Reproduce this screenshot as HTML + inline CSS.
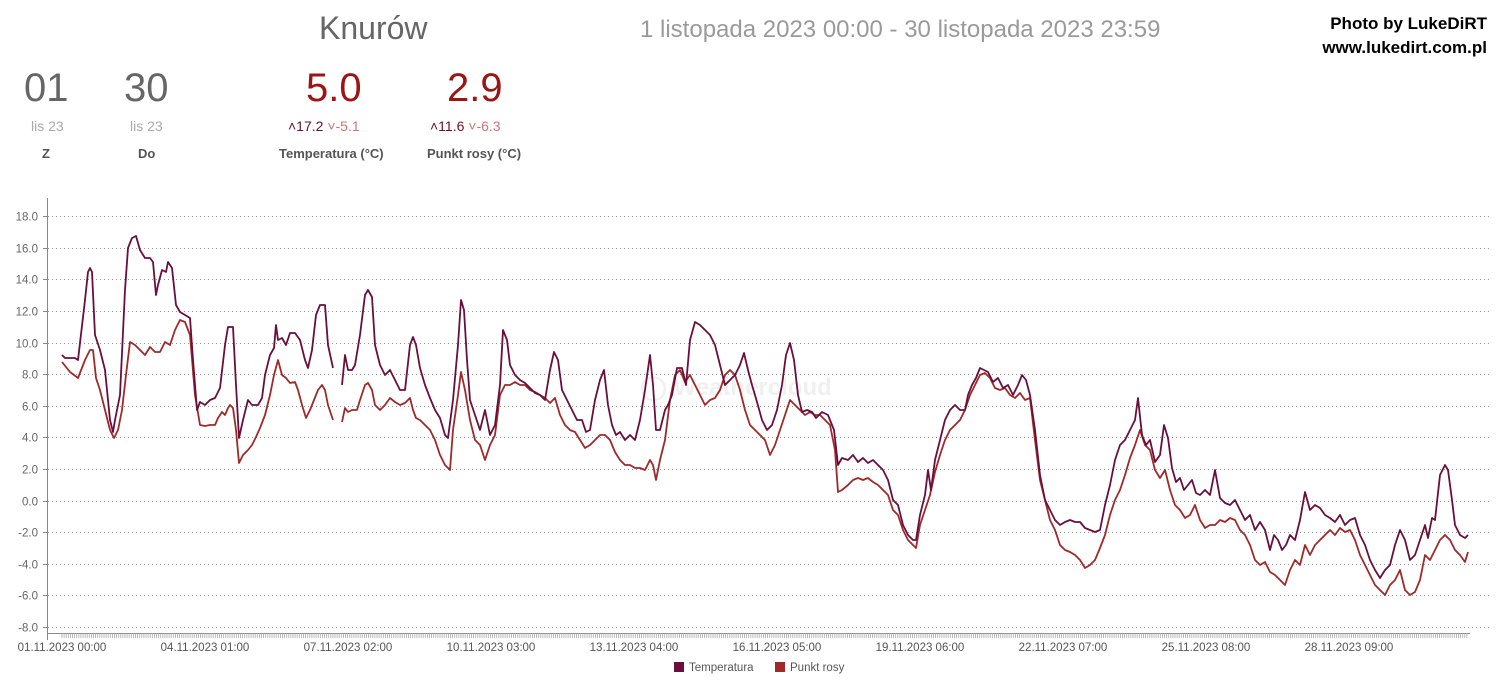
<!DOCTYPE html>
<html><head><meta charset="utf-8"><style>
body{margin:0;background:#fff;width:1498px;height:688px;overflow:hidden;position:relative;font-family:"Liberation Sans",sans-serif}
.a{position:absolute;white-space:nowrap}
</style></head><body>
<div class="a" style="left:319px;top:10px;font-size:32px;color:#666">Knurów</div>
<div class="a" style="left:640px;top:16px;font-size:24px;color:#9a9a9a">1 listopada 2023 00:00 - 30 listopada 2023 23:59</div>
<div class="a" style="right:11px;top:12px;font-size:17px;font-weight:bold;color:#000;text-align:right;line-height:24px">Photo by LukeDiRT<br>www.lukedirt.com.pl</div>
<div class="a" style="left:24px;top:66px;font-size:40px;color:#666">01</div>
<div class="a" style="left:124px;top:66px;font-size:40px;color:#666">30</div>
<div class="a" style="left:31px;top:118px;font-size:14px;color:#aaa">lis 23</div>
<div class="a" style="left:130px;top:118px;font-size:14px;color:#aaa">lis 23</div>
<div class="a" style="left:42px;top:146px;font-size:13px;font-weight:bold;color:#555">Z</div>
<div class="a" style="left:138px;top:146px;font-size:13px;font-weight:bold;color:#555">Do</div>
<div class="a" style="left:306px;top:66px;font-size:40px;color:#9b1515">5.0</div>
<div class="a" style="left:447px;top:66px;font-size:40px;color:#9b1515">2.9</div>
<div class="a" style="left:288px;top:118px;font-size:14px;color:#6b0f2a">˄17.2 <span style="color:#c77">˅-5.1</span></div>
<div class="a" style="left:430px;top:118px;font-size:14px;color:#6b0f2a">˄11.6 <span style="color:#c77">˅-6.3</span></div>
<div class="a" style="left:279px;top:146px;font-size:13px;font-weight:bold;color:#555">Temperatura (°C)</div>
<div class="a" style="left:427px;top:146px;font-size:13px;font-weight:bold;color:#555">Punkt rosy (°C)</div>
<div class="a" style="left:640px;top:373px;font-size:24px;font-weight:bold;color:#f0f0f0">◯ Weathercloud</div>
<svg id="s" class="a" style="left:0;top:0" width="1498" height="688" font-family="Liberation Sans, sans-serif"></svg>
<script>
var s=document.getElementById('s'),h='';
h+='<line x1="47.5" y1="198" x2="47.5" y2="640" stroke="#888"/>';
for(var v=18;v>=-8;v-=2){var y=Math.round(500.6-15.81*v)+0.5;
h+='<line x1="48" y1="'+y+'" x2="1490" y2="'+y+'" stroke="#999" stroke-dasharray="1,3"/>';
h+='<line x1="43" y1="'+y+'" x2="48" y2="'+y+'" stroke="#888"/>';
h+='<text x="38" y="'+(y+4)+'" font-size="11.5" fill="#666" text-anchor="end">'+v.toFixed(1)+'</text>';}
h+='<line x1="47" y1="633.5" x2="1470" y2="633.5" stroke="#888"/>';
var t='';for(var x=62;x<=1468;x+=2.1){t+='M'+x.toFixed(1)+' 633v5';}
h+='<path d="'+t+'" stroke="#aaa" stroke-width="0.8"/>';
var L=['01.11.2023 00:00','04.11.2023 01:00','07.11.2023 02:00','10.11.2023 03:00','13.11.2023 04:00','16.11.2023 05:00','19.11.2023 06:00','22.11.2023 07:00','25.11.2023 08:00','28.11.2023 09:00'];
L.forEach(function(l,i){h+='<text x="'+(62+143*i)+'" y="651" font-size="11.5" fill="#555" text-anchor="middle">'+l+'</text>';});
var T="62,355 65,358 75,358 78,360 85,300 88,272 90,268 92,272 95,335 100,350 105,370 110,420 113,432 115,420 120,395 125,290 128,248 132,238 136,236 140,250 145,258 150,258 153,262 156,295 158,285 162,270 166,272 168,262 172,268 176,305 180,312 185,315 190,318 193,360 197,410 200,402 205,405 210,400 215,398 220,388 225,345 228,327 233,327 236,385 239,438 243,420 248,400 252,405 258,405 262,398 265,375 270,355 274,348 276,325 278,340 282,338 286,345 290,333 295,333 300,340 305,360 308,368 312,350 316,315 320,305 325,305 328,345 333,368";
var T2="342,385 345,355 348,370 352,370 355,365 360,335 365,295 368,290 372,297 375,345 380,365 385,375 390,370 395,380 400,390 405,390 410,345 413,337 416,345 420,368 425,385 430,398 435,410 440,418 445,435 448,438 453,400 458,345 461,300 464,310 467,360 470,400 475,415 480,430 485,410 490,435 495,425 500,385 503,330 507,340 510,365 515,375 520,380 525,383 530,388 535,393 540,395 545,400 550,370 554,352 558,360 562,390 567,400 572,410 577,420 582,420 586,432 590,430 595,400 600,380 604,370 608,405 612,425 616,435 620,432 625,440 630,435 635,440 640,420 645,390 650,355 653,385 656,430 660,430 665,410 668,405 672,395 677,368 682,368 686,385 690,340 695,322 700,325 705,330 710,335 715,345 720,365 725,385 730,380 735,375 740,365 744,353 748,370 752,385 757,402 762,420 767,430 772,425 777,410 782,385 786,355 790,343 794,360 798,395 802,412 807,410 812,412 816,418 822,412 828,415 834,430 838,465 842,458 848,460 853,455 858,462 863,458 868,463 873,460 878,465 883,470 888,480 893,500 898,505 903,525 908,535 913,540 916,540 920,515 925,495 928,470 931,490 935,460 940,440 945,420 950,410 955,405 960,410 965,410 968,395 972,385 976,378 980,368 984,370 988,372 993,382 998,378 1003,388 1008,385 1013,395 1018,385 1022,375 1026,380 1030,395 1035,430 1040,475 1045,500 1050,510 1055,520 1060,525 1065,522 1070,520 1075,522 1080,522 1085,528 1090,530 1095,532 1100,530 1105,505 1110,485 1115,460 1120,445 1125,440 1130,430 1135,420 1138,398 1142,435 1146,445 1150,440 1155,462 1160,455 1164,425 1168,438 1172,468 1176,482 1180,478 1184,490 1188,485 1192,480 1196,493 1200,495 1205,490 1210,495 1215,470 1220,498 1225,503 1230,505 1235,500 1240,510 1245,520 1250,515 1255,530 1260,522 1265,530 1270,550 1274,535 1278,540 1282,550 1286,545 1290,535 1295,540 1300,520 1305,492 1310,510 1315,505 1320,508 1325,515 1330,518 1335,522 1340,515 1345,525 1350,520 1355,518 1360,535 1365,545 1370,560 1375,570 1380,578 1385,570 1390,565 1395,545 1400,530 1405,540 1410,560 1415,555 1420,540 1425,525 1428,538 1432,518 1435,520 1440,475 1445,465 1448,470 1452,500 1455,525 1460,535 1465,538 1468,535";
var D="62,362 70,372 78,378 85,360 90,350 93,350 96,378 100,390 105,410 110,430 114,438 118,430 122,410 126,375 130,342 135,345 140,350 145,355 150,347 155,352 160,352 165,342 170,345 175,330 180,320 185,322 190,335 195,395 200,425 205,426 210,425 215,425 218,418 222,412 225,415 228,408 230,405 233,408 236,430 239,463 243,455 248,450 252,445 256,437 260,428 265,415 270,395 274,375 278,360 282,375 286,378 290,383 295,382 298,390 302,405 306,418 310,410 314,400 318,390 322,385 325,390 328,405 333,420";
var D2="342,422 345,408 348,412 352,410 357,410 360,400 365,385 368,383 372,390 375,405 380,410 385,405 390,398 395,402 400,405 405,403 410,398 413,410 416,418 420,420 425,425 430,430 435,440 440,455 445,465 450,470 453,430 458,395 461,372 465,390 470,420 475,440 480,445 485,460 490,445 495,435 500,395 505,385 510,385 515,382 520,385 525,385 530,390 535,392 540,395 545,398 550,403 555,398 560,415 565,425 570,430 575,432 580,440 585,448 590,445 595,440 600,435 605,435 610,440 615,452 620,460 625,465 630,465 635,468 640,468 645,470 650,460 653,465 656,480 660,460 665,440 670,400 675,375 680,370 685,382 690,375 695,385 700,395 705,405 710,400 715,398 720,390 725,375 730,370 735,375 740,390 745,410 750,425 755,430 760,435 765,440 770,455 775,445 780,430 785,415 790,400 795,405 800,410 805,415 810,412 815,415 820,415 825,420 830,425 835,450 838,492 842,490 848,485 853,480 858,478 863,480 868,478 873,482 878,485 883,490 888,495 893,510 898,515 903,530 908,540 913,545 916,548 920,525 925,510 930,495 935,472 940,455 945,440 950,430 955,425 960,420 965,410 970,395 975,385 980,375 985,373 990,378 995,388 1000,390 1005,388 1010,395 1015,398 1020,393 1025,400 1030,398 1035,440 1040,480 1045,500 1050,520 1055,530 1060,545 1065,550 1070,552 1075,555 1080,560 1085,568 1090,565 1095,560 1100,548 1105,535 1110,515 1115,500 1120,490 1125,475 1130,458 1135,445 1140,430 1145,445 1150,450 1155,470 1160,478 1165,470 1170,490 1175,505 1180,510 1185,518 1190,515 1195,505 1200,520 1205,528 1210,525 1215,525 1220,520 1225,522 1230,518 1235,520 1240,530 1245,535 1250,545 1255,560 1260,565 1265,562 1270,572 1275,575 1280,580 1285,585 1290,570 1295,560 1300,565 1305,545 1310,555 1315,545 1320,540 1325,535 1330,530 1335,535 1340,528 1345,532 1350,530 1355,540 1360,555 1365,565 1370,575 1375,585 1380,590 1385,595 1390,585 1395,580 1400,570 1405,590 1410,595 1415,592 1420,580 1425,555 1430,560 1435,550 1440,540 1445,535 1450,540 1455,550 1460,555 1465,562 1468,552";
function pl(p,c){return '<polyline points="'+p+'" fill="none" stroke="'+c+'" stroke-width="1.8" stroke-linejoin="round"/>';}
h+=pl(D,'#9e2a2a')+pl(D2,'#9e2a2a')+pl(T,'#6a0f3c')+pl(T2,'#6a0f3c');
h+='<rect x="674" y="662" width="10" height="10" fill="#6a0f3c"/><text x="689" y="671" font-size="11.5" fill="#555">Temperatura</text>';
h+='<rect x="775" y="662" width="10" height="10" fill="#9e2a2a"/><text x="790" y="671" font-size="11.5" fill="#555">Punkt rosy</text>';
s.innerHTML=h;
</script>
</body></html>
